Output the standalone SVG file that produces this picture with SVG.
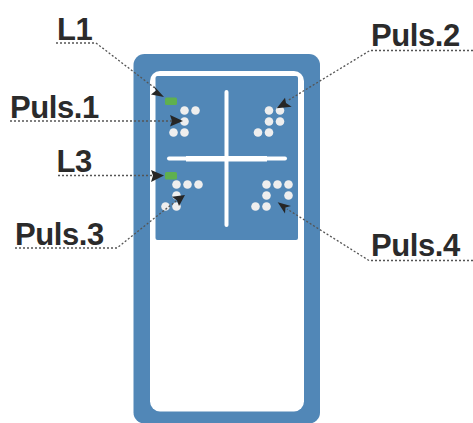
<svg xmlns="http://www.w3.org/2000/svg" width="473" height="423" viewBox="0 0 473 423">
<style>
.lbl{font-family:"Liberation Sans",Arial,sans-serif;font-size:31px;letter-spacing:-0.4px;font-weight:bold;fill:#2b2b2b}
.dot{fill:#eeeeee}
.lead{fill:none;stroke:#555;stroke-width:1.3;stroke-dasharray:2 2}
.head{fill:#262626}
.led{fill:#5fb04f}
</style>
<g id="device">
<rect x="133.500" y="54" width="186.500" height="369.500" rx="11" fill="#5187b7"/>
<rect x="150" y="71" width="154" height="340.500" rx="10" fill="#fff"/>
<rect x="155.500" y="76" width="142.500" height="164" rx="2" fill="#5187b7"/>
<g id="cross" fill="#fff">
<rect x="224.500" y="90" width="4" height="137" rx="2"/>
<rect x="167" y="156.500" width="120" height="4" rx="2"/>
<rect x="186" y="156" width="81" height="5.500"/>
</g>
</g>
<g id="L1-led"><rect class="led" x="165" y="97.500" width="12" height="7.500" rx="1.500"/></g>
<g id="L3-led"><rect class="led" x="165" y="172" width="12" height="7.500" rx="1.500"/></g>
<g id="puls1-dots">
<circle class="dot" cx="184.500" cy="110.500" r="4.300"/><circle class="dot" cx="195.500" cy="110.500" r="4.300"/><circle class="dot" cx="184.500" cy="121.500" r="4.300"/><circle class="dot" cx="173.500" cy="132.500" r="4.300"/><circle class="dot" cx="184.500" cy="132.500" r="4.300"/>
</g>
<g id="puls2-dots">
<circle class="dot" cx="269" cy="110.500" r="4.300"/><circle class="dot" cx="280" cy="110.500" r="4.300"/><circle class="dot" cx="269" cy="121.500" r="4.300"/><circle class="dot" cx="280" cy="121.500" r="4.300"/><circle class="dot" cx="258" cy="132.500" r="4.300"/><circle class="dot" cx="269" cy="132.500" r="4.300"/>
</g>
<g id="puls3-dots">
<circle class="dot" cx="176.500" cy="184.500" r="4.300"/><circle class="dot" cx="187.500" cy="184.500" r="4.300"/><circle class="dot" cx="198.500" cy="184.500" r="4.300"/><circle class="dot" cx="176.500" cy="195.500" r="4.300"/><circle class="dot" cx="165.500" cy="206.500" r="4.300"/><circle class="dot" cx="176.500" cy="206.500" r="4.300"/>
</g>
<g id="puls4-dots">
<circle class="dot" cx="266.500" cy="184.500" r="4.300"/><circle class="dot" cx="277.500" cy="184.500" r="4.300"/><circle class="dot" cx="288.500" cy="184.500" r="4.300"/><circle class="dot" cx="266.500" cy="195.500" r="4.300"/><circle class="dot" cx="288.500" cy="195.500" r="4.300"/><circle class="dot" cx="255.500" cy="206.500" r="4.300"/><circle class="dot" cx="266.500" cy="206.500" r="4.300"/>
</g>
<g id="connectors">
<polyline class="lead" points="56,43 96,43 156,89"/>
<polygon class="head" points="164,97 151,94.500 156,90.500 153.500,85.500"/>
<polyline class="lead" points="10,121 175,121"/>
<polygon class="head" points="183,121 170,115 172,121 170,126.500"/>
<polyline class="lead" points="473,50.500 370,50.500 287,101"/>
<polygon class="head" points="276.700,108.300 285,97.700 286,103 291.700,106.700"/>
<polyline class="lead" points="58,175.500 156,175.500"/>
<polygon class="head" points="164,175.500 151,170 153,175.500 151,182"/>
<polyline class="lead" points="15,248 117,248 176,201"/>
<polygon class="head" points="185,195 172,196.700 177,200.500 179,206"/>
<polyline class="lead" points="473,260.500 369,260.500 287,209"/>
<polygon class="head" points="277.700,202.300 291,206 285.500,207.500 285,213.500"/>
</g>
<g id="label-L1"><text class="lbl" x="57" y="39.500">L1</text></g>
<g id="label-Puls1"><text class="lbl" x="10" y="117.500">Puls.1</text></g>
<g id="label-Puls2"><text class="lbl" x="371" y="45.500">Puls.2</text></g>
<g id="label-L3"><text class="lbl" x="56.500" y="171.500">L3</text></g>
<g id="label-Puls3"><text class="lbl" x="15" y="244.500">Puls.3</text></g>
<g id="label-Puls4"><text class="lbl" x="371" y="255.500">Puls.4</text></g>
</svg>
